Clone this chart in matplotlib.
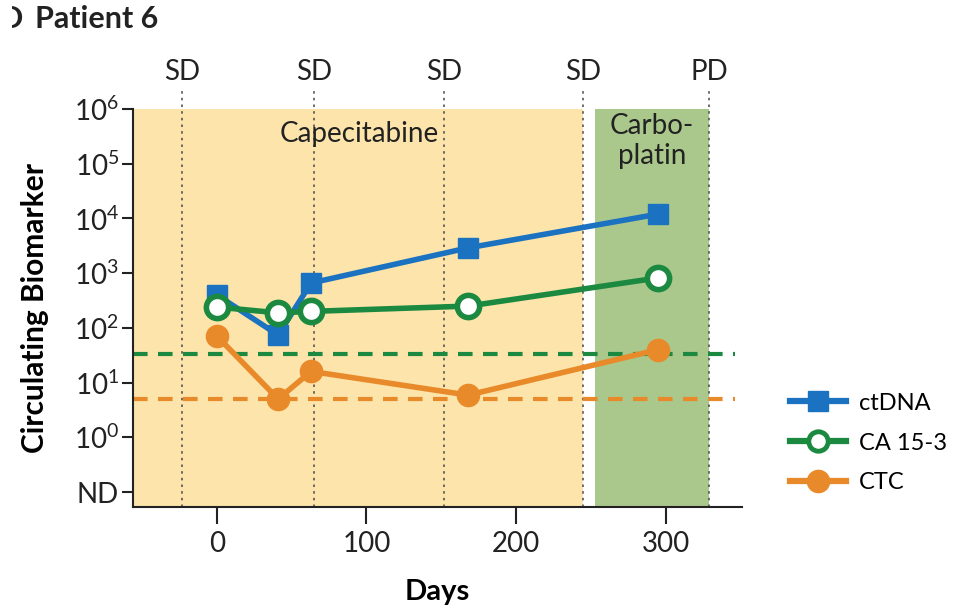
import matplotlib
matplotlib.use("Agg")
import matplotlib.pyplot as plt
import matplotlib.transforms as mtransforms
from matplotlib.lines import Line2D
from matplotlib.patches import Rectangle

plt.rcParams['font.family'] = ['Lato', 'DejaVu Sans']
plt.rcParams['mathtext.fontset'] = 'custom'
plt.rcParams['mathtext.rm'] = 'Lato'
plt.rcParams['mathtext.it'] = 'Lato:italic'
plt.rcParams['mathtext.bf'] = 'Lato:bold'

# ---- data ----
ctdna_days = [0, 41, 63, 168, 295]
ctdna_vals = [400, 74, 660, 2900, 12000]
ca153_days = [0, 41, 63, 168, 295]
ca153_vals = [240, 188, 200, 250, 820]
ctc_days = [0, 41, 63, 168, 295]
ctc_vals = [71, 5, 16, 5.9, 40]
ca153_threshold = 33
ctc_threshold = 5
response_days = [-23, 65, 152, 245, 329]
response_labels = ['SD', 'SD', 'SD', 'SD', 'PD']
capecitabine_span = [-56, 245]
carboplatin_span = [253, 329]
xticks = [0, 100, 200, 300]
yticks = [0.1, 1, 10, 100, 1e3, 1e4, 1e5, 1e6]
ytick_labels = ['ND', r'$10^{0}$', r'$10^{1}$', r'$10^{2}$', r'$10^{3}$',
                r'$10^{4}$', r'$10^{5}$', r'$10^{6}$']

blue = '#1a72c0'
green = '#1b8a40'
orange = '#e98a2a'
yellow_bg = '#fce4ab'
green_bg = '#abc88c'
txt = '#222222'

fig = plt.figure(figsize=(9.59, 6.10), dpi=100)
ax = fig.add_axes([133/959, 1-507/610, (742-133)/959, (507-109)/610])

ax.set_yscale('log')
ax.set_xlim(-56, 351)
ax.set_ylim(10**-1.274, 1e6)

ax.axvspan(capecitabine_span[0], capecitabine_span[1], color=yellow_bg, lw=0, zorder=0)
ax.axvspan(carboplatin_span[0], carboplatin_span[1], color=green_bg, lw=0, zorder=0)

trans = mtransforms.blended_transform_factory(ax.transData, ax.transAxes)
for d, lab in zip(response_days, response_labels):
    ax.plot([d, d], [0, 1.048], transform=trans, color='#555555', lw=1.2,
            ls=(0, (1.5, 2.5)), clip_on=False, zorder=1)
    ax.text(d, 1.092, lab, transform=trans, ha='center', va='center',
            fontsize=20, color=txt)

ax.plot([-56, 346], [ca153_threshold]*2, color=green, lw=3, ls=(0, (3.5, 2.5)),
        clip_on=False, zorder=2)
ax.plot([-56, 346], [ctc_threshold]*2, color=orange, lw=3, ls=(0, (3.5, 2.5)),
        clip_on=False, zorder=2)

ax.plot(ctdna_days, ctdna_vals, color=blue, lw=4, marker='s', ms=15,
        mfc=blue, mec=blue, zorder=4)
ax.plot(ctc_days, ctc_vals, color=orange, lw=4, marker='o', ms=16,
        mfc=orange, mec=orange, zorder=3)
ax.plot(ca153_days, ca153_vals, color=green, lw=4, marker='o', ms=16,
        mfc='white', mec=green, mew=4, zorder=5)

ax.text(95, 10**5.55, 'Capecitabine', ha='center', va='center', fontsize=20,
        color=txt)
ax.text(291, 10**5.42, 'Carbo-\nplatin', ha='center', va='center', fontsize=20,
        color=txt, linespacing=1.2)

for s in ['top', 'right']:
    ax.spines[s].set_visible(False)
for s in ['left', 'bottom']:
    ax.spines[s].set_linewidth(1.5)
    ax.spines[s].set_color(txt)

ax.set_xticks(xticks)
ax.set_xticklabels([str(t) for t in xticks])
ax.set_yticks(yticks)
ax.set_yticklabels(ytick_labels)
ax.minorticks_off()
ax.tick_params(axis='both', labelsize=20, colors=txt, width=1.5)
ax.tick_params(axis='y', length=8, pad=2)
ax.tick_params(axis='x', length=12, pad=5)

ax.set_xlabel('Days', fontsize=21, fontweight='bold', labelpad=16)
ax.set_ylabel('Circulating Biomarker', fontsize=21.5, fontweight='bold')
ax.yaxis.set_label_coords(-0.138, 0.5)

fig.text(35/959, 1-19/610, 'Patient 6', fontsize=22, fontweight='bold',
         ha='left', va='center', color=txt)
# partially cropped panel letter, as in the source figure
fig.text(0/959, 1-19/610, 'D', fontsize=22, fontweight='bold',
         ha='left', va='center', color=txt, zorder=3)
fig.patches.append(Rectangle((0, 1-40/610), 12/959, 40/610, transform=fig.transFigure,
                             facecolor='white', edgecolor='none', zorder=10))

handles = [
    Line2D([], [], color=blue, lw=4.5, marker='s', ms=14, mfc=blue, mec=blue),
    Line2D([], [], color=green, lw=4.5, marker='o', ms=14, mfc='white', mec=green, mew=3.5),
    Line2D([], [], color=orange, lw=4.5, marker='o', ms=16, mfc=orange, mec=orange),
]
fig.legend(handles, ['ctDNA', 'CA 15-3', 'CTC'], loc='center left',
           bbox_to_anchor=(781/959, 1-443/610), frameon=False, fontsize=17,
           handlelength=2.35, labelspacing=0.8, handletextpad=0.55,
           borderaxespad=0)

fig.savefig('out.png', dpi=100)
